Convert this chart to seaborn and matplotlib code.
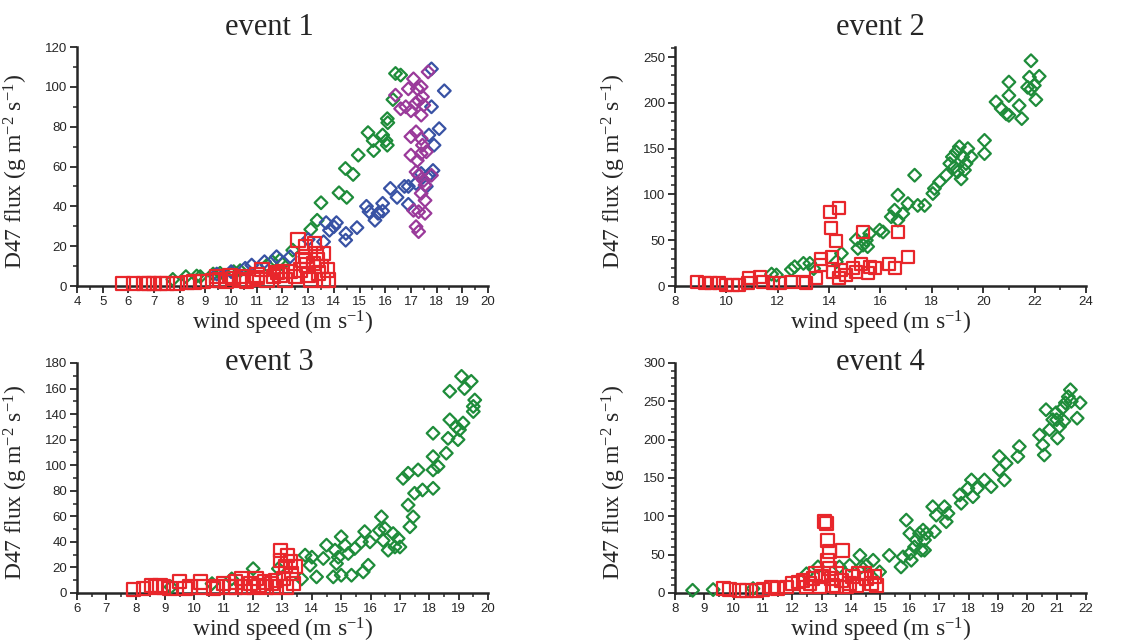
import matplotlib
matplotlib.use("Agg")
import matplotlib.pyplot as plt
import seaborn as sns
import numpy as np
import pandas as pd
from matplotlib.ticker import MultipleLocator

GREEN = "#1e8c3a"
BLUE = "#3852a4"
PURPLE = "#9a3a9a"
RED = "#e8262b"

# event 1
ev1_green_x = [7.73, 8.24, 8.66, 8.8, 9.3, 9.57, 10.1, 10.35, 11.4, 11.6, 11.9, 12.0, 12.4, 13.1, 13.35, 13.5,
               14.2, 14.5, 14.45, 14.75, 14.95, 15.33, 15.53, 15.55, 15.9, 16.03, 16.08, 16.08, 16.1, 16.3, 16.4, 16.6]
ev1_green_y = [3.3, 4.7, 5.0, 4.7, 6.0, 6.4, 7.2, 7.7, 10.5, 12.2, 13.0, 11.0, 18.0, 28.4, 33.0, 41.8,
               46.8, 44.5, 59.0, 56.0, 65.7, 77.0, 73.0, 68.0, 75.8, 73.0, 70.7, 84.0, 82.0, 93.6, 106.7, 105.9]
ev1_blue_x = [9.44, 10.0, 10.55, 10.8, 11.3, 11.77, 12.3, 13.0, 13.6, 13.7, 13.83, 14.0, 14.1, 14.46, 14.47, 14.9,
              15.27, 15.37, 15.6, 15.72, 15.9, 15.9, 16.2, 16.46, 16.75, 16.9, 16.9, 17.2, 17.4, 17.6, 17.7, 17.86,
              17.9, 17.7, 18.1, 17.8, 17.8, 18.3]
ev1_blue_y = [6.0, 7.2, 8.9, 10.5, 12.2, 14.7, 14.7, 23.4, 22.2, 31.8, 28.0, 29.8, 31.8, 23.0, 26.4, 29.3,
              40.0, 37.3, 33.0, 36.5, 41.5, 37.6, 49.0, 44.5, 50.0, 41.0, 50.0, 51.5, 56.5, 50.0, 55.7, 58.0,
              70.7, 75.8, 79.0, 90.0, 109.0, 98.0]
ev1_purple_x = [16.4, 16.6, 16.8, 16.9, 17.0, 17.1, 17.17, 17.25, 17.4, 17.45, 17.3, 17.4, 17.5, 17.67, 17.0, 17.2,
                17.4, 17.45, 17.0, 17.25, 17.4, 17.6, 17.2, 17.3, 17.5, 17.8, 17.55, 17.4, 17.55, 17.1, 17.3, 17.55,
                17.2, 17.3]
ev1_purple_y = [95.8, 89.0, 90.0, 99.0, 88.0, 104.0, 91.6, 99.0, 100.0, 95.0, 93.0, 85.8, 90.8, 107.5, 75.0, 77.4,
                74.0, 70.7, 65.7, 63.0, 66.5, 67.4, 57.3, 55.7, 53.0, 55.6, 50.7, 46.5, 43.0, 38.0, 37.3, 36.5,
                29.8, 27.3]
ev1_red_x = [5.8, 6.2, 6.6, 6.8, 7.0, 7.25, 7.5, 7.9, 8.3, 8.55, 8.9, 9.3, 9.55, 9.8, 10.1, 10.35, 10.6, 10.85,
             11.0, 11.2, 11.4, 11.65, 11.9, 12.1, 12.3, 12.5, 12.6, 12.7, 12.9, 12.9, 13.0, 13.1, 13.25, 13.3,
             13.35, 13.5, 13.6, 13.4, 13.6, 13.75, 13.8, 13.2, 12.95, 12.8, 12.0, 11.8, 11.0, 10.4, 9.95, 9.45]
ev1_red_y = [1.3, 1.3, 1.3, 1.3, 1.3, 1.3, 1.3, 1.3, 1.7, 2.0, 2.2, 2.7, 3.0, 2.2, 3.8, 3.0, 2.2, 3.3,
             4.3, 8.4, 3.0, 4.7, 5.5, 3.0, 7.2, 4.7, 23.0, 8.0, 14.7, 19.7, 5.5, 3.0, 21.4, 16.4,
             13.0, 9.7, 16.4, 6.4, 3.0, 8.0, 3.0, 11.4, 10.5, 13.0, 7.2, 6.7, 5.5, 4.7, 5.0, 4.7]

# event 2
ev2_green_x = [11.76, 11.95, 12.53, 12.66, 13.0, 13.25, 13.4, 14.28, 14.48, 15.06, 15.12, 15.32, 15.45, 15.58,
               15.5, 15.97, 16.1, 16.42, 16.55, 16.68, 16.68, 16.87, 17.07, 17.33, 17.45, 17.72, 18.04, 18.1,
               18.3, 18.56, 18.7, 18.8, 18.88, 18.95, 19.0, 19.07, 19.14, 19.2, 19.27, 19.33, 19.4, 19.53,
               20.05, 20.05, 20.5, 20.7, 20.9, 21.0, 21.0, 21.0, 21.4, 21.5, 21.86, 21.8, 21.73, 21.86, 21.99,
               22.05, 22.18]
ev2_green_y = [13, 12, 18, 21, 24.7, 24.7, 19, 26.5, 35.6, 50.9, 41, 44.7, 50, 57.4,
               43, 61, 59, 75.6, 82.8, 99.2, 72, 79, 90, 121, 88, 88, 101, 106.5,
               113.7, 121, 133.7, 141, 130, 146.4, 124.6, 152, 117, 141, 126.5, 133.7, 150, 141,
               159, 144.6, 201, 193.7, 188, 222.7, 208, 186.4, 197, 182.8, 246, 228, 217, 215, 219,
               203.5, 229]
ev2_red_x = [8.84, 9.17, 9.42, 9.7, 10.0, 10.27, 10.5, 10.85, 10.9, 11.3, 11.43, 11.8, 12.08, 12.53, 13.0, 13.1,
             13.5, 13.7, 13.7, 14.1, 14.04, 14.4, 14.07, 14.28, 14.15, 14.4, 14.48, 14.67, 14.93, 15.06, 15.25,
             15.32, 15.5, 15.58, 15.77, 16.35, 16.55, 16.68, 17.07]
ev2_red_y = [4.7, 2.9, 2.9, 3.6, 1.0, 1.0, 1.0, 2.9, 8.4, 10, 4.7, 2.9, 3.6, 4.7, 4.7, 2.9,
             8.4, 23, 30, 32, 81, 84.7, 63.6, 49.4, 15.6, 8.4, 18, 12, 19.3, 15.6, 23.6,
             58.5, 13.8, 21, 19.3, 24, 19.3, 58.5, 32]

# event 3
ev3_green_x = [9.2, 10.6, 11.27, 12.0, 12.86, 13.65, 13.77, 13.94, 14.0, 14.16, 14.39, 14.5, 14.73, 14.79, 14.84,
               14.9, 15.0, 15.0, 15.13, 15.24, 15.35, 15.46, 15.69, 15.75, 15.8, 15.92, 15.98, 16.3, 16.37,
               16.43, 16.49, 16.6, 16.77, 16.83, 16.94, 17.0, 17.11, 17.28, 17.28, 17.34, 17.45, 17.5, 17.62,
               17.77, 18.13, 18.13, 18.13, 18.13, 18.3, 18.58, 18.64, 18.7, 18.7, 18.92, 18.98, 19.03, 19.1,
               19.15, 19.2, 19.43, 19.5, 19.5, 19.55]
ev3_green_y = [4.7, 7.3, 11, 19, 19, 11, 29.6, 21.7, 28, 12.6, 27, 37.4, 12.6, 33.5, 23,
               28, 44, 13.9, 37.4, 30.9, 13.9, 34.8, 40, 16.5, 48, 21.7, 40, 49, 59.6,
               41, 50.5, 33.5, 46.5, 36, 42.6, 36, 89.7, 93.7, 68.8, 51.8, 59.6, 78, 96.3,
               80.6, 125, 106.7, 96.3, 81.9, 99, 109.4, 121, 135.5, 157.8, 130, 120, 127.7, 169.5,
               133, 160, 165.6, 146, 142, 151]
ev3_red_x = [7.93, 8.27, 8.55, 8.66, 8.83, 8.95, 9.17, 9.5, 9.68, 9.85, 10.2, 10.3, 10.65, 10.8, 11.0, 11.2, 11.4,
             11.6, 11.7, 11.9, 12.1, 12.2, 12.4, 12.46, 12.63, 12.8, 12.92, 12.92, 13.03, 13.09, 13.17, 13.26,
             13.3, 13.37, 13.43, 13.14, 12.75, 11.4, 12.0]
ev3_red_y = [2.6, 3.4, 6.0, 4.7, 6.0, 4.7, 3.4, 9.2, 3.4, 4.7, 8.6, 4.7, 3.4, 4.7, 7.3, 4.7, 8.6,
             11.2, 4.7, 7.3, 11.2, 6.0, 8.6, 4.7, 7.3, 4.7, 33.5, 25.6, 11.2, 20.4, 29.6, 24.3,
             15.2, 7.3, 20.4, 4.7, 10.0, 4.7, 4.7]

# event 4
ev4_green_x = [8.6, 9.3, 10.66, 12.48, 12.87, 13.6, 13.95, 14.3, 14.35, 14.52, 14.75, 14.97, 15.3, 15.7, 15.77,
               15.88, 16.0, 16.0, 16.05, 16.16, 16.22, 16.33, 16.39, 16.45, 16.5, 16.56, 16.5, 16.78, 16.84,
               16.9, 17.18, 17.24, 17.3, 17.7, 17.75, 17.98, 18.1, 18.15, 18.3, 18.54, 18.77, 19.05, 19.05,
               19.22, 19.28, 19.68, 19.73, 20.42, 20.53, 20.58, 20.64, 20.76, 20.87, 20.98, 21.03, 21.1, 21.2,
               21.25, 21.3, 21.4, 21.47, 21.5, 21.7, 21.8, 21.0]
ev4_green_y = [3.5, 4.4, 5.7, 25, 34, 34, 36, 49, 34, 36, 42.7, 27.5, 49, 34, 47,
               95, 77.6, 51.5, 42.7, 60, 69, 77.6, 55.8, 82, 69, 77.6, 55.8, 112.5, 80,
               101.6, 112.5, 93, 103.8, 127.8, 117, 136.5, 147.4, 125.6, 136.5, 147.4, 138.7, 178, 160.5,
               147.4, 169, 178, 191, 206, 193, 180, 239, 213, 226, 235, 202, 217, 241,
               224, 248, 256, 265, 250, 228, 248, 226]
ev4_red_x = [9.64, 9.87, 10.2, 10.44, 10.78, 11.0, 11.3, 11.5, 11.8, 12.0, 12.2, 12.36, 12.48, 12.6, 12.7, 12.8,
             12.93, 13.0, 13.1, 13.15, 13.2, 13.27, 13.2, 13.27, 13.33, 13.38, 13.5, 13.67, 13.72, 13.84, 14.06,
             14.18, 14.24, 14.46, 14.52, 14.7, 14.8, 14.86, 13.95, 13.5]
ev4_red_y = [5.7, 4.4, 3.5, 3.5, 3.5, 4.4, 7.8, 5.7, 7.8, 12.2, 14.4, 16.6, 7.8, 12.2, 18.8, 25.3,
             7.8, 21, 92.9, 90.7, 68.9, 53.6, 42.7, 31.8, 18.8, 10, 25.3, 16.6, 55.8, 7.8, 21,
             10, 25.3, 25.3, 18.8, 12.2, 21, 10, 12.2, 7.8]

panels = [
    dict(title="event 1", series=[(ev1_green_x, ev1_green_y, "D", GREEN), (ev1_blue_x, ev1_blue_y, "D", BLUE),
                                  (ev1_purple_x, ev1_purple_y, "D", PURPLE), (ev1_red_x, ev1_red_y, "s", RED)],
         xlim=(4, 20), ylim=(0, 120), xmaj=1, xmin=0.5, ymaj=20, ymin=10, rect=[0.0672, 0.5552, 0.3586, 0.3717],
         tx=0.467, ty=1.05, sq=95),
    dict(title="event 2", series=[(ev2_green_x, ev2_green_y, "D", GREEN), (ev2_red_x, ev2_red_y, "s", RED)],
         xlim=(8, 24), ylim=(0, 261), xmaj=2, xmin=1, ymaj=50, ymin=10, rect=[0.589, 0.5552, 0.3586, 0.3717],
         tx=0.5, ty=1.05, sq=75),
    dict(title="event 3", series=[(ev3_green_x, ev3_green_y, "D", GREEN), (ev3_red_x, ev3_red_y, "s", RED)],
         xlim=(6, 20), ylim=(0, 180), xmaj=1, xmin=0.5, ymaj=20, ymin=10, rect=[0.0672, 0.0778, 0.3586, 0.3577],
         tx=0.467, ty=0.97, sq=90),
    dict(title="event 4", series=[(ev4_green_x, ev4_green_y, "D", GREEN), (ev4_red_x, ev4_red_y, "s", RED)],
         xlim=(8, 22), ylim=(0, 300), xmaj=1, xmin=0.5, ymaj=50, ymin=10, rect=[0.589, 0.0778, 0.3586, 0.3577],
         tx=0.5, ty=0.97, sq=85),
]

sns.set_style("ticks")
plt.rcParams["font.family"] = ["Liberation Serif", "DejaVu Serif"]
plt.rcParams["mathtext.fontset"] = "custom"
plt.rcParams["mathtext.rm"] = "Liberation Serif"
plt.rcParams["mathtext.it"] = "Liberation Serif:italic"

fig = plt.figure(figsize=(11.46, 6.43), dpi=100)

for p in panels:
    ax = fig.add_axes(p["rect"])
    for xs, ys, mk, col in p["series"]:
        size = 42 if mk == "D" else p["sq"]
        sns.scatterplot(x=xs, y=ys, marker=mk, s=size, facecolor="none", edgecolor=col,
                        linewidth=1.6, ax=ax, zorder=3, clip_on=False)
    ax.set_xlim(*p["xlim"])
    ax.set_ylim(*p["ylim"])
    ax.xaxis.set_major_locator(MultipleLocator(p["xmaj"]))
    ax.xaxis.set_minor_locator(MultipleLocator(p["xmin"]))
    ax.yaxis.set_major_locator(MultipleLocator(p["ymaj"]))
    ax.yaxis.set_minor_locator(MultipleLocator(p["ymin"]))
    sns.despine(ax=ax)
    for side in ["left", "bottom"]:
        ax.spines[side].set_linewidth(1.8)
    ax.tick_params(which="major", direction="out", length=5, width=1.3, pad=2, labelsize=9.5)
    ax.tick_params(which="minor", direction="out", length=3, width=1.1)
    for lab in ax.get_xticklabels() + ax.get_yticklabels():
        lab.set_fontfamily("Liberation Sans")
    ax.set_xlabel(r"wind speed (m s$^{-1}$)", fontsize=17, labelpad=1)
    ax.set_ylabel(r"D47 flux (g m$^{-2}$ s$^{-1}$)", fontsize=17)
    ax.yaxis.set_label_coords(-0.115, 0.48)
    ax.text(p["tx"], p["ty"], p["title"], transform=ax.transAxes, ha="center", va="baseline", fontsize=22)

fig.savefig("out.png", dpi=100)
